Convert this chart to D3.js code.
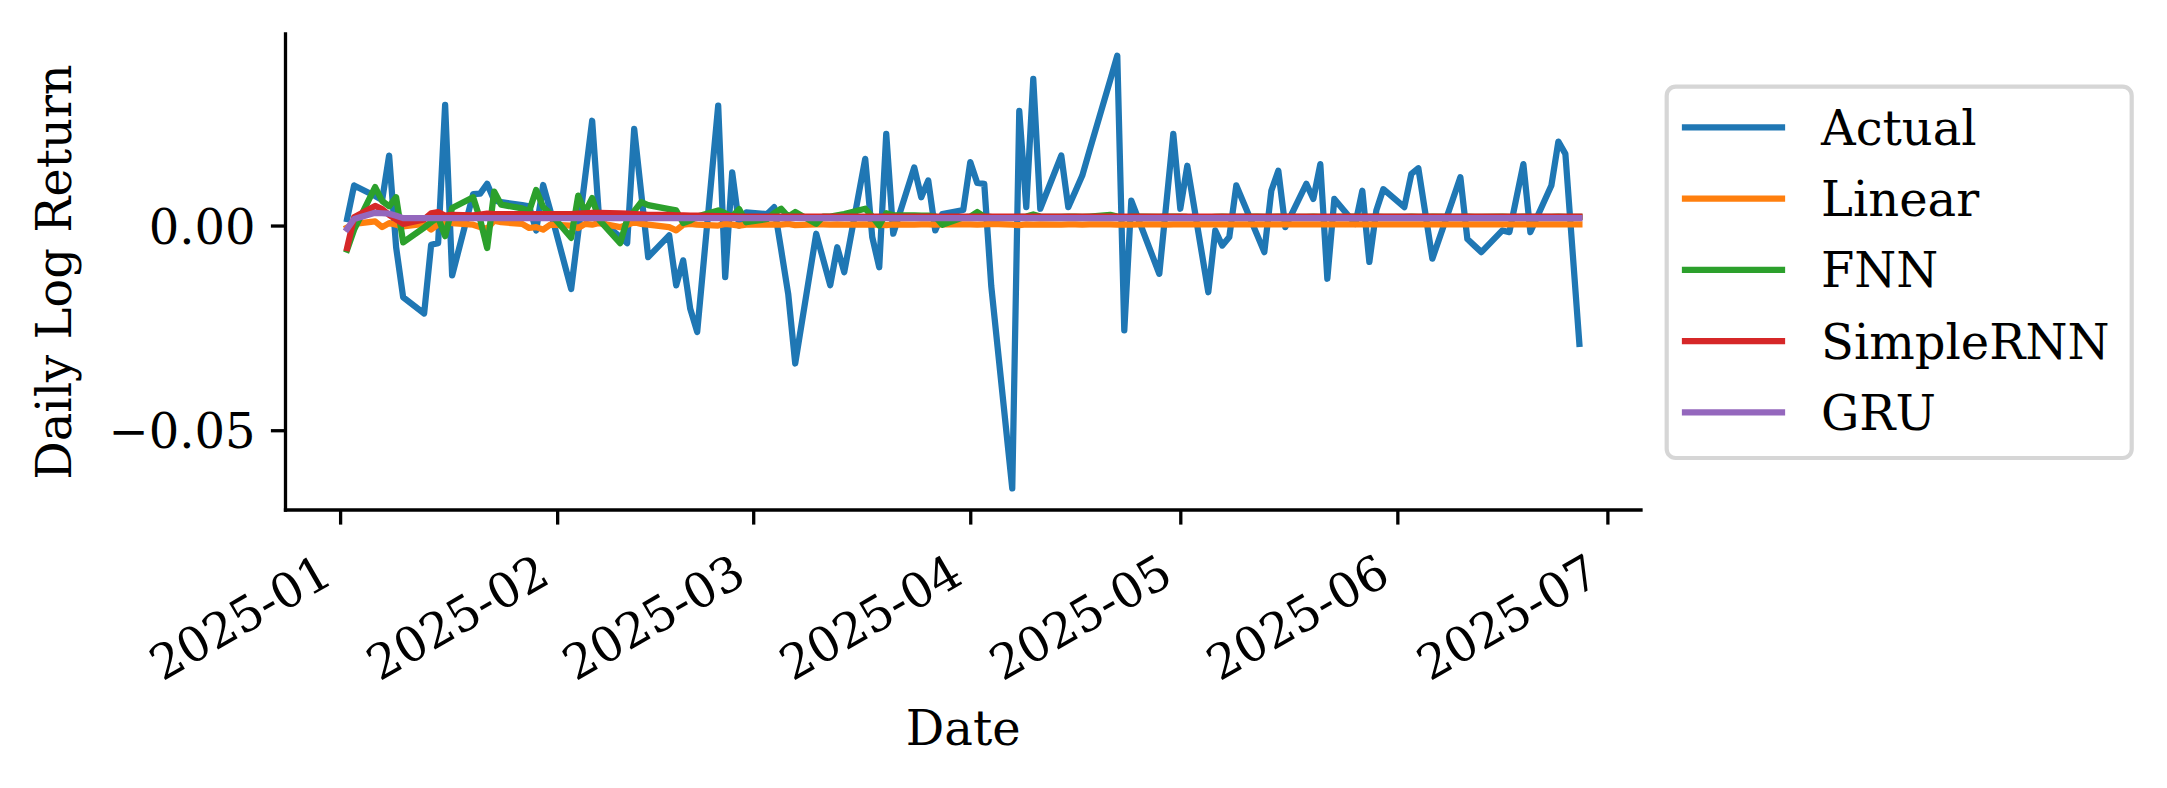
<!DOCTYPE html>
<html><head><meta charset="utf-8">
<script src="https://cdn.jsdelivr.net/npm/d3@7"></script>
<style>html,body{margin:0;padding:0;background:#fff;} svg{display:block;} text{font-family:"DejaVu Serif",serif;}</style>
</head><body><svg id="chart" width="2167" height="788"></svg>
<script>
// ---------------- DATA ----------------
const dates = [
"2025-01-02","2025-01-03","2025-01-06","2025-01-07","2025-01-08","2025-01-09","2025-01-10","2025-01-13","2025-01-14","2025-01-15","2025-01-16","2025-01-17","2025-01-20","2025-01-21","2025-01-22","2025-01-23","2025-01-24","2025-01-27","2025-01-28","2025-01-29","2025-01-30","2025-01-31",
"2025-02-03","2025-02-04","2025-02-05","2025-02-06","2025-02-07","2025-02-10","2025-02-11","2025-02-12","2025-02-13","2025-02-14","2025-02-17","2025-02-18","2025-02-19","2025-02-20","2025-02-21","2025-02-24","2025-02-25","2025-02-26","2025-02-27","2025-02-28",
"2025-03-03","2025-03-04","2025-03-05","2025-03-06","2025-03-07","2025-03-10","2025-03-11","2025-03-12","2025-03-13","2025-03-14","2025-03-17","2025-03-18","2025-03-19","2025-03-20","2025-03-21","2025-03-24","2025-03-25","2025-03-26","2025-03-27","2025-03-28","2025-03-31",
"2025-04-01","2025-04-02","2025-04-03","2025-04-04","2025-04-07","2025-04-08","2025-04-09","2025-04-10","2025-04-11","2025-04-14","2025-04-15","2025-04-16","2025-04-17","2025-04-18","2025-04-21","2025-04-22","2025-04-23","2025-04-24","2025-04-25","2025-04-28","2025-04-29","2025-04-30",
"2025-05-01","2025-05-02","2025-05-05","2025-05-06","2025-05-07","2025-05-08","2025-05-09","2025-05-12","2025-05-13","2025-05-14","2025-05-15","2025-05-16","2025-05-19","2025-05-20","2025-05-21","2025-05-22","2025-05-23","2025-05-26","2025-05-27","2025-05-28","2025-05-29","2025-05-30",
"2025-06-02","2025-06-03","2025-06-04","2025-06-05","2025-06-06","2025-06-09","2025-06-10","2025-06-11","2025-06-12","2025-06-13","2025-06-16","2025-06-17","2025-06-18","2025-06-19","2025-06-20","2025-06-23","2025-06-24","2025-06-25","2025-06-26","2025-06-27"
];
const actual = [
0.0016,0.0098,0.0072,0.0062,0.0171,-0.0053,-0.0175,-0.0215,-0.0047,-0.0043,0.0295,-0.0122,0.0077,0.0078,0.0102,0.0062,0.0057,0.0050,0.0047,-0.0012,0.0099,0.0038,
-0.0155,-0.0018,0.0119,0.0256,0.0015,-0.0028,-0.0043,0.0236,0.0080,-0.0077,-0.0024,-0.0146,-0.0085,-0.0203,-0.0260,0.0293,-0.0126,0.0130,0.0000,0.0032,
0.0028,0.0045,-0.0060,-0.0167,-0.0337,-0.0020,-0.0083,-0.0146,-0.0053,-0.0114,0.0163,-0.0028,-0.0102,0.0224,-0.0020,0.0142,0.0069,0.0110,-0.0012,0.0028,0.0038,
0.0155,0.0104,0.0102,-0.0148,-0.0642,0.0280,0.0045,0.0358,0.0041,0.0171,0.0045,0.0083,0.0122,0.0181,0.0356,0.0415,-0.0256,0.0061,0.0016,-0.0118,0.0053,0.0224,
0.0041,0.0146,-0.0163,-0.0012,-0.0049,-0.0028,0.0098,-0.0024,-0.0065,0.0085,0.0134,-0.0004,0.0102,0.0065,0.0150,-0.0130,0.0065,0.0004,0.0085,-0.0089,0.0037,0.0089,
0.0045,0.0126,0.0140,0.0030,-0.0081,0.0068,0.0118,-0.0033,-0.0049,-0.0065,-0.0012,-0.0016,0.0067,0.0150,-0.0016,0.0098,0.0205,0.0175,-0.0057,-0.0289
];
const linear = [
-0.0005,0.0004,0.0010,-0.0004,0.0006,0.0002,-0.0002,0.0004,-0.0010,0.0003,0.0010,0.0006,0.0002,-0.0004,-0.0008,0.0012,0.0008,0.0004,-0.0006,-0.0004,-0.0010,0.0002,
0.0000,-0.0006,0.0004,0.0002,0.0006,-0.0004,0.0002,0.0008,0.0004,0.0002,-0.0004,-0.0012,0.0002,0.0004,0.0002,0.0000,0.0004,0.0002,0.0000,0.0002,
0.0002,0.0003,0.0002,0.0004,0.0001,0.0003,0.0003,0.0002,0.0003,0.0002,0.0003,0.0002,0.0003,0.0001,0.0003,0.0002,0.0003,0.0003,0.0002,0.0003,0.0003,
0.0003,0.0002,0.0003,0.0004,0.0002,0.0001,0.0003,0.0002,0.0003,0.0002,0.0003,0.0003,0.0002,0.0003,0.0003,0.0002,0.0003,0.0002,0.0003,0.0003,0.0002,0.0003,
0.0003,0.0003,0.0003,0.0003,0.0003,0.0003,0.0003,0.0003,0.0003,0.0003,0.0003,0.0003,0.0003,0.0003,0.0003,0.0003,0.0003,0.0003,0.0003,0.0003,0.0003,0.0003,
0.0003,0.0003,0.0003,0.0003,0.0003,0.0003,0.0003,0.0003,0.0003,0.0003,0.0003,0.0003,0.0003,0.0003,0.0003,0.0003,0.0003,0.0003,0.0003,0.0003
];
const fnn = [
-0.0059,-0.0010,0.0094,0.0060,0.0047,0.0069,-0.0041,-0.0005,0.0008,0.0020,-0.0026,0.0043,0.0069,0.0015,-0.0055,0.0083,0.0051,0.0042,0.0035,0.0087,0.0045,0.0030,
-0.0030,0.0073,0.0033,0.0067,0.0014,-0.0043,0.0015,0.0035,0.0057,0.0050,0.0040,0.0037,0.0006,0.0012,0.0022,0.0037,0.0030,0.0022,0.0040,0.0008,
0.0016,0.0030,0.0041,0.0022,0.0033,0.0004,0.0022,0.0022,0.0025,0.0028,0.0041,0.0022,0.0000,0.0030,0.0025,0.0025,0.0024,0.0024,0.0022,0.0002,0.0020,
0.0022,0.0033,0.0022,0.0021,0.0020,0.0021,0.0022,0.0027,0.0022,0.0021,0.0022,0.0022,0.0021,0.0022,0.0026,0.0022,0.0020,0.0021,0.0022,0.0021,0.0022,0.0022,
0.0022,0.0021,0.0020,0.0021,0.0022,0.0021,0.0021,0.0022,0.0021,0.0021,0.0022,0.0021,0.0021,0.0022,0.0021,0.0020,0.0021,0.0022,0.0021,0.0021,0.0022,0.0021,
0.0021,0.0022,0.0021,0.0021,0.0022,0.0021,0.0021,0.0022,0.0021,0.0021,0.0022,0.0021,0.0021,0.0022,0.0021,0.0021,0.0022,0.0021,0.0021,0.0021
];
const simpleRNN = [
-0.0055,0.0020,0.0048,0.0040,0.0026,0.0015,0.0004,0.0015,0.0030,0.0033,0.0024,0.0026,0.0025,0.0027,0.0029,0.0028,0.0028,0.0028,0.0027,0.0028,0.0028,0.0028,
0.0028,0.0029,0.0030,0.0031,0.0031,0.0030,0.0029,0.0028,0.0027,0.0026,0.0026,0.0025,0.0025,0.0024,0.0024,0.0023,0.0023,0.0023,0.0022,0.0022,
0.0022,0.0022,0.0022,0.0022,0.0022,0.0022,0.0022,0.0022,0.0022,0.0022,0.0022,0.0022,0.0022,0.0022,0.0022,0.0022,0.0022,0.0022,0.0022,0.0022,0.0022,
0.0022,0.0022,0.0022,0.0022,0.0022,0.0022,0.0022,0.0022,0.0022,0.0022,0.0022,0.0022,0.0022,0.0022,0.0022,0.0022,0.0022,0.0022,0.0022,0.0022,0.0022,0.0022,
0.0022,0.0022,0.0022,0.0022,0.0022,0.0022,0.0022,0.0022,0.0022,0.0022,0.0022,0.0022,0.0022,0.0022,0.0022,0.0022,0.0022,0.0022,0.0022,0.0022,0.0022,0.0022,
0.0022,0.0022,0.0022,0.0022,0.0022,0.0022,0.0022,0.0022,0.0022,0.0022,0.0022,0.0022,0.0022,0.0022,0.0022,0.0022,0.0022,0.0022,0.0022,0.0022
];
const gru = [
-0.0008,0.0016,0.0031,0.0030,0.0029,0.0024,0.0018,0.0018,0.0018,0.0018,0.0018,0.0018,0.0018,0.0018,0.0018,0.0018,0.0018,0.0018,0.0018,0.0018,0.0018,0.0018,
0.0018,0.0018,0.0018,0.0018,0.0018,0.0018,0.0018,0.0018,0.0018,0.0018,0.0018,0.0018,0.0018,0.0018,0.0018,0.0018,0.0018,0.0018,0.0018,0.0018,
0.0018,0.0018,0.0018,0.0018,0.0018,0.0018,0.0018,0.0018,0.0018,0.0018,0.0018,0.0018,0.0018,0.0018,0.0018,0.0018,0.0018,0.0018,0.0018,0.0018,0.0018,
0.0018,0.0018,0.0018,0.0018,0.0018,0.0018,0.0018,0.0018,0.0018,0.0018,0.0018,0.0018,0.0018,0.0018,0.0018,0.0018,0.0018,0.0018,0.0018,0.0018,0.0018,0.0018,
0.0018,0.0018,0.0018,0.0018,0.0018,0.0018,0.0018,0.0018,0.0018,0.0018,0.0018,0.0018,0.0018,0.0018,0.0018,0.0018,0.0018,0.0018,0.0018,0.0018,0.0018,0.0018,
0.0018,0.0018,0.0018,0.0018,0.0018,0.0018,0.0018,0.0018,0.0018,0.0018,0.0018,0.0018,0.0018,0.0018,0.0018,0.0018,0.0018,0.0018,0.0018,0.0018
];
const seriesNames = ["Actual","Linear","FNN","SimpleRNN","GRU"];
const seriesColors = ["#1f77b4","#ff7f0e","#2ca02c","#d62728","#9467bd"];
const xTickLabels = ["2025-01","2025-02","2025-03","2025-04","2025-05","2025-06","2025-07"];
const yTickValues = [-0.05, 0.00];
const xAxisTitle = "Date";
const yAxisTitle = "Daily Log Return";

// ---------------- LAYOUT ----------------
const FS = 48;
const plot = {left: 285.5, right: 1641, top: 34, bottom: 510};
const svg = d3.select("#chart");
svg.append("rect").attr("width",2167).attr("height",788).attr("fill","#fff");

const parse = d3.utcParse("%Y-%m-%d");
const t = dates.map(parse);
const allSeries = [actual, linear, fnn, simpleRNN, gru];
const tExt = d3.extent(t);
const tPad = (tExt[1] - tExt[0]) * 0.05;
const x = d3.scaleUtc()
  .domain([new Date(+tExt[0] - tPad), new Date(+tExt[1] + tPad)])
  .range([plot.left, plot.right]);
const vals = allSeries.flat();
const yMin = d3.min(vals), yMax = d3.max(vals), yPad = (yMax - yMin) * 0.05;
const y = d3.scaleLinear().domain([yMin - yPad, yMax + yPad]).range([plot.bottom, plot.top]);

// lines
const lineGen = d3.line().x((d, i) => x(t[i])).y(d => y(d));
const gLines = svg.append("g");
allSeries.forEach((s, k) => {
  gLines.append("path").datum(s)
    .attr("d", lineGen)
    .attr("fill", "none")
    .attr("stroke", seriesColors[k])
    .attr("stroke-width", 6.25)
    .attr("stroke-linejoin", "round")
    .attr("stroke-linecap", "square");
});

// x axis
const xTicks = xTickLabels.map(s => parse(s + "-01"));
const gx = svg.append("g").attr("transform", `translate(0,${plot.bottom})`)
  .call(d3.axisBottom(x).tickValues(xTicks).tickSize(14.6).tickSizeOuter(0)
    .tickFormat((d, i) => xTickLabels[i]));
gx.select(".domain").remove();
gx.selectAll(".tick line").attr("stroke", "#000").attr("stroke-width", 3.3);
gx.selectAll(".tick text")
  .attr("fill", "#000").attr("font-size", FS).attr("font-family", '"DejaVu Serif", serif')
  .attr("text-anchor", "end").attr("x", -5.5).attr("y", 72).attr("dy", null)
  .attr("transform", "rotate(-30,-5.5,72)");

// y axis
const gy = svg.append("g").attr("transform", `translate(${plot.left},0)`)
  .call(d3.axisLeft(y).tickValues(yTickValues).tickSize(14.6).tickSizeOuter(0)
    .tickFormat(d3.format(".2f")));
gy.select(".domain").remove();
gy.selectAll(".tick line").attr("stroke", "#000").attr("stroke-width", 3.3);
gy.selectAll(".tick text")
  .attr("fill", "#000").attr("font-size", FS).attr("font-family", '"DejaVu Serif", serif')
  .attr("x", -30).attr("dy", null).attr("y", 17.5);

// spines
svg.append("line").attr("x1", plot.left).attr("x2", plot.left).attr("y1", plot.top).attr("y2", plot.bottom)
  .attr("stroke", "#000").attr("stroke-width", 3.3).attr("stroke-linecap", "square");
svg.append("line").attr("x1", plot.left).attr("x2", plot.right).attr("y1", plot.bottom).attr("y2", plot.bottom)
  .attr("stroke", "#000").attr("stroke-width", 3.3).attr("stroke-linecap", "square");

// axis titles
svg.append("text").attr("x", (plot.left + plot.right) / 2).attr("y", 745)
  .attr("text-anchor", "middle").attr("font-size", FS).text(xAxisTitle);
svg.append("text").attr("transform", `translate(71,${(plot.top + plot.bottom) / 2}) rotate(-90)`)
  .attr("text-anchor", "middle").attr("font-size", FS).text(yAxisTitle);

// legend
const lg = svg.append("g");
lg.append("rect").attr("x", 1666.7).attr("y", 86.7).attr("width", 465).attr("height", 371.3)
  .attr("rx", 9).attr("ry", 9).attr("fill", "#fff").attr("stroke", "#d6d6d6").attr("stroke-width", 4.2);
seriesNames.forEach((name, k) => {
  const ly = 127.3 + k * 71.25;
  lg.append("line").attr("x1", 1685).attr("x2", 1782).attr("y1", ly).attr("y2", ly)
    .attr("stroke", seriesColors[k]).attr("stroke-width", 6.25).attr("stroke-linecap", "square");
  lg.append("text").attr("x", 1821).attr("y", ly + 17.5).attr("font-size", 48).attr("fill", "#000").text(name);
});
</script></body></html>
